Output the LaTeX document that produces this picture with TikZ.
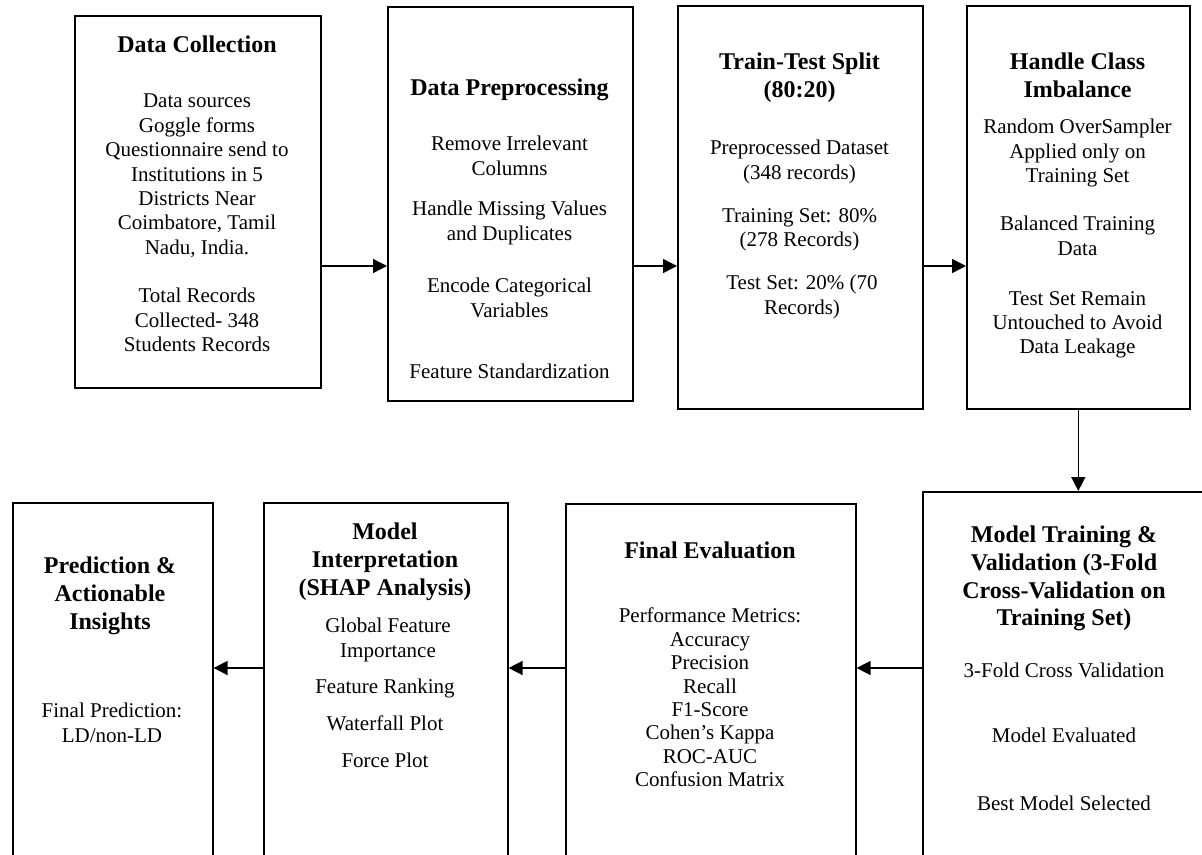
\documentclass[tikz,border=0pt]{standalone}
\usepackage{fontspec}
\setmainfont{Liberation Serif}
\usetikzlibrary{arrows.meta}
\newcommand{\ttlfont}{\fontsize{24}{27.7}\selectfont\bfseries}
\newcommand{\bodyfont}{\fontsize{21}{24.4}\selectfont}
\newcommand{\listfont}{\fontsize{21}{23.4}\selectfont}
\begin{document}
\begin{tikzpicture}[x=1pt,y=-1pt,
  box/.style={draw, line width=1.6pt, inner sep=0, anchor=north west},
  ttl/.style={font=\ttlfont, align=center, anchor=north, inner sep=0},
  txt/.style={font=\bodyfont, align=center, anchor=north, inner sep=0},
  arr/.style={line width=1.5pt, -{Triangle[length=14pt,width=14pt]}}]
\useasboundingbox (0,0) rectangle (1202,854);
\clip (0,0) rectangle (1202,854);
\fill[white] (0,0) rectangle (1202,854);
% boxes
\node[box, minimum width=246pt, minimum height=372pt] (b1) at (74,15) {};
\node[box, minimum width=245pt, minimum height=394pt] (b2) at (387,6) {};
\node[box, minimum width=245pt, minimum height=403pt] (b3) at (677,5) {};
\node[box, minimum width=223pt, minimum height=403pt] (b4) at (966,5) {};
\node[box, minimum width=284pt, minimum height=420pt] (b5) at (922,491) {};
\node[box, minimum width=290pt, minimum height=420pt] (b6) at (565,503) {};
\node[box, minimum width=244pt, minimum height=420pt] (b7) at (263,502) {};
\node[box, minimum width=200pt, minimum height=420pt] (b8) at (12,502) {};
% box 1
\node[ttl] (t1) at (197,36) {Data Collection};
\node[txt] (t1a) at (197,94) {Data sources\\Goggle forms\\Questionnaire send to\\Institutions in 5\\Districts Near\\Coimbatore, Tamil\\Nadu, India.};
\node[txt] (t1b) at (197,288) {Total Records\\Collected- 348\\Students Records};
% box 2
\node[ttl] (t2) at (509.5,79) {Data Preprocessing};
\node[txt] (t2a) at (509.5,136) {Remove Irrelevant\\Columns};
\node[txt] (t2b) at (509.5,201) {Handle Missing Values\\and Duplicates};
\node[txt] (t2c) at (509.5,278) {Encode Categorical\\Variables};
\node[txt] (t2d) at (509.5,364) {Feature Standardization};
% box 3
\node[ttl] (t3) at (799.5,53) {Train-Test Split\\(80:20)};
\node[txt] (t3a) at (799.5,140) {Preprocessed Dataset\\(348 records)};
\node[txt] (t3b) at (799.5,208) {Training Set: 80\%\\(278 Records)};
\node[txt] (t3c) at (802,275) {Test Set: 20\% (70\\Records)};
% box 4
\node[ttl] (t4) at (1077.5,53) {Handle Class\\Imbalance};
\node[txt] (t4a) at (1077.5,119) {Random OverSampler\\Applied only on\\Training Set};
\node[txt] (t4b) at (1077.5,216) {Balanced Training\\Data};
\node[txt] (t4c) at (1077.5,291) {Test Set Remain\\Untouched to Avoid\\Data Leakage};
% box 5
\node[ttl] (t5) at (1064,526) {Model Training \&\\Validation (3-Fold\\Cross-Validation on\\Training Set)};
\node[txt] (t5a) at (1064,663) {3-Fold Cross Validation};
\node[txt] (t5b) at (1064,728) {Model Evaluated};
\node[txt] (t5c) at (1064,796) {Best Model Selected};
% box 6
\node[ttl] (t6) at (710,542) {Final Evaluation};
\node[txt, font=\listfont] (t6a) at (710,608) {Performance Metrics:\\Accuracy\\Precision\\Recall\\F1-Score\\Cohen’s Kappa\\ROC-AUC\\Confusion Matrix};
% box 7
\node[ttl] (t7) at (385,523) {Model\\Interpretation\\(SHAP Analysis)};
\node[txt] (t7a) at (388,618) {Global Feature\\Importance};
\node[txt] (t7b) at (385,679) {Feature Ranking};
\node[txt] (t7c) at (385,716) {Waterfall Plot};
\node[txt] (t7d) at (385,753) {Force Plot};
% box 8
\node[ttl] (t8) at (110,557) {Prediction \&\\Actionable\\Insights};
\node[txt] (t8a) at (112,703) {Final Prediction:\\LD/non-LD};
% connectors
\coordinate (ytop) at (0,266);
\coordinate (ybot) at (0,668);
\draw[arr] (b1.east |- ytop) -- (b2.west |- ytop);
\draw[arr] (b2.east |- ytop) -- (b3.west |- ytop);
\draw[arr] (b3.east |- ytop) -- (b4.west |- ytop);
\draw[arr] (b4.south) -- (b4.south |- b5.north);
\draw[arr] (b5.west |- ybot) -- (b6.east |- ybot);
\draw[arr] (b6.west |- ybot) -- (b7.east |- ybot);
\draw[arr] (b7.west |- ybot) -- (b8.east |- ybot);
\end{tikzpicture}
\end{document}
